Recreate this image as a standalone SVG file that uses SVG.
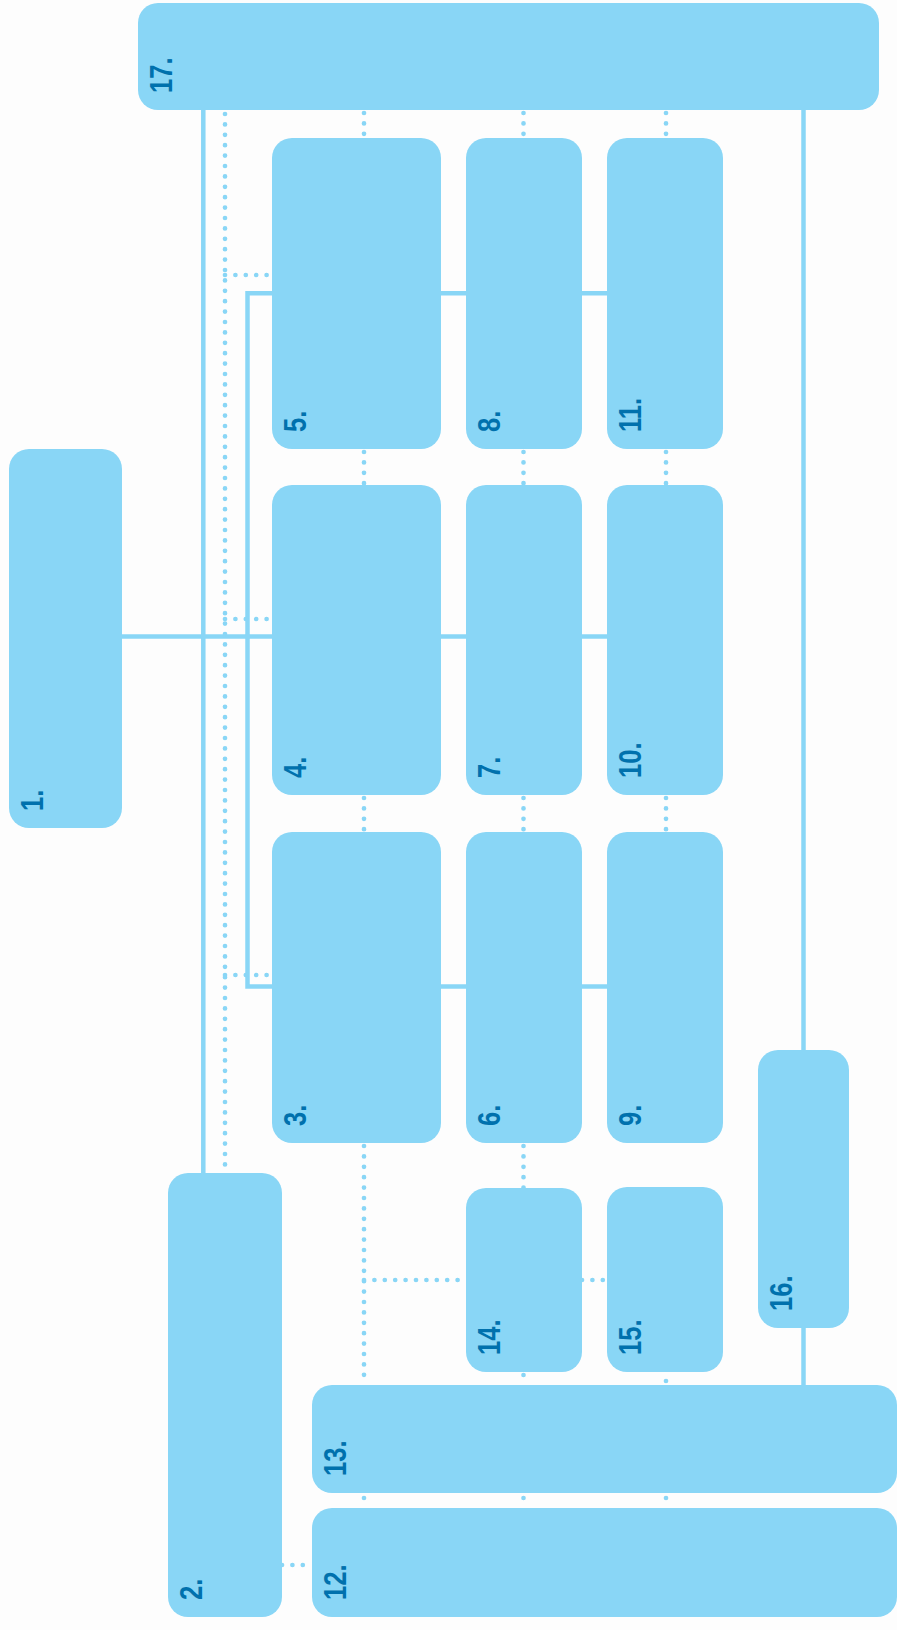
<svg xmlns="http://www.w3.org/2000/svg" width="897" height="1630" viewBox="0 0 897 1630">
<style>
.n{fill:#89D6F6}
.l{font-family:"Liberation Sans",Arial,sans-serif;font-weight:bold;font-size:32px;fill:#0071AD}
.s{fill:none;stroke:#89D6F6;stroke-width:4.5}
.d{fill:none;stroke:#89D6F6;stroke-width:4.7;stroke-linecap:round;stroke-dasharray:0 10.4}
</style>
<rect width="897" height="1630" fill="#FDFDFD"/>
<g id="connectors">
<path class="s" d="M122,636.5H272M441,636.5H466M582,636.5H607M441,293.3H466M582,293.3H607M441,986.5H466M582,986.5H607M272,293.3H247.5V986.5H272M203.3,110V1173M803.5,110V1050M803.5,1328V1385"/>
<path class="d" d="M225,114V1173M225,275H272M225,619H272M225,975H272"/>
<path class="d" d="M364,113V138M364,452V485M364,798V832M364,1146V1385M364,1498V1508"/>
<path class="d" d="M523.5,113V138M523.5,452V485M523.5,798V832M523.5,1146V1188M523.5,1375V1385M523.5,1498V1508"/>
<path class="d" d="M666,113V138M666,452V485M666,798V832M666,1381V1385M666,1498V1508"/>
<path class="d" d="M364,1280H466M582,1280H607M282,1565H312"/>
</g>
<g id="node1"><rect class="n" x="9" y="449" width="113" height="379" rx="20"/><text class="l" transform="translate(43,811) rotate(-90) scale(0.8,1)">1.</text></g>
<g id="node2"><rect class="n" x="168" y="1173" width="114" height="444" rx="20"/><text class="l" transform="translate(202,1600) rotate(-90) scale(0.8,1)">2.</text></g>
<g id="node3"><rect class="n" x="272" y="832" width="169" height="311" rx="20"/><text class="l" transform="translate(306,1126) rotate(-90) scale(0.8,1)">3.</text></g>
<g id="node4"><rect class="n" x="272" y="485" width="169" height="310" rx="20"/><text class="l" transform="translate(306,778) rotate(-90) scale(0.8,1)">4.</text></g>
<g id="node5"><rect class="n" x="272" y="138" width="169" height="311" rx="20"/><text class="l" transform="translate(306,432) rotate(-90) scale(0.8,1)">5.</text></g>
<g id="node6"><rect class="n" x="466" y="832" width="116" height="311" rx="20"/><text class="l" transform="translate(500,1126) rotate(-90) scale(0.8,1)">6.</text></g>
<g id="node7"><rect class="n" x="466" y="485" width="116" height="310" rx="20"/><text class="l" transform="translate(500,778) rotate(-90) scale(0.8,1)">7.</text></g>
<g id="node8"><rect class="n" x="466" y="138" width="116" height="311" rx="20"/><text class="l" transform="translate(500,432) rotate(-90) scale(0.8,1)">8.</text></g>
<g id="node9"><rect class="n" x="607" y="832" width="116" height="311" rx="20"/><text class="l" transform="translate(641,1126) rotate(-90) scale(0.8,1)">9.</text></g>
<g id="node10"><rect class="n" x="607" y="485" width="116" height="310" rx="20"/><text class="l" transform="translate(641,778) rotate(-90) scale(0.8,1)">10.</text></g>
<g id="node11"><rect class="n" x="607" y="138" width="116" height="311" rx="20"/><text class="l" transform="translate(641,432) rotate(-90) scale(0.8,1)">11.</text></g>
<g id="node12"><rect class="n" x="312" y="1508" width="585" height="109" rx="20"/><text class="l" transform="translate(346,1600) rotate(-90) scale(0.8,1)">12.</text></g>
<g id="node13"><rect class="n" x="312" y="1385" width="585" height="108" rx="20"/><text class="l" transform="translate(346,1476) rotate(-90) scale(0.8,1)">13.</text></g>
<g id="node14"><rect class="n" x="466" y="1188" width="116" height="184" rx="20"/><text class="l" transform="translate(500,1355) rotate(-90) scale(0.8,1)">14.</text></g>
<g id="node15"><rect class="n" x="607" y="1187" width="116" height="185" rx="20"/><text class="l" transform="translate(641,1355) rotate(-90) scale(0.8,1)">15.</text></g>
<g id="node16"><rect class="n" x="758" y="1050" width="91" height="278" rx="20"/><text class="l" transform="translate(792,1311) rotate(-90) scale(0.8,1)">16.</text></g>
<g id="node17"><rect class="n" x="138" y="3" width="741" height="107" rx="20"/><text class="l" transform="translate(172,93) rotate(-90) scale(0.8,1)">17.</text></g>
</svg>
